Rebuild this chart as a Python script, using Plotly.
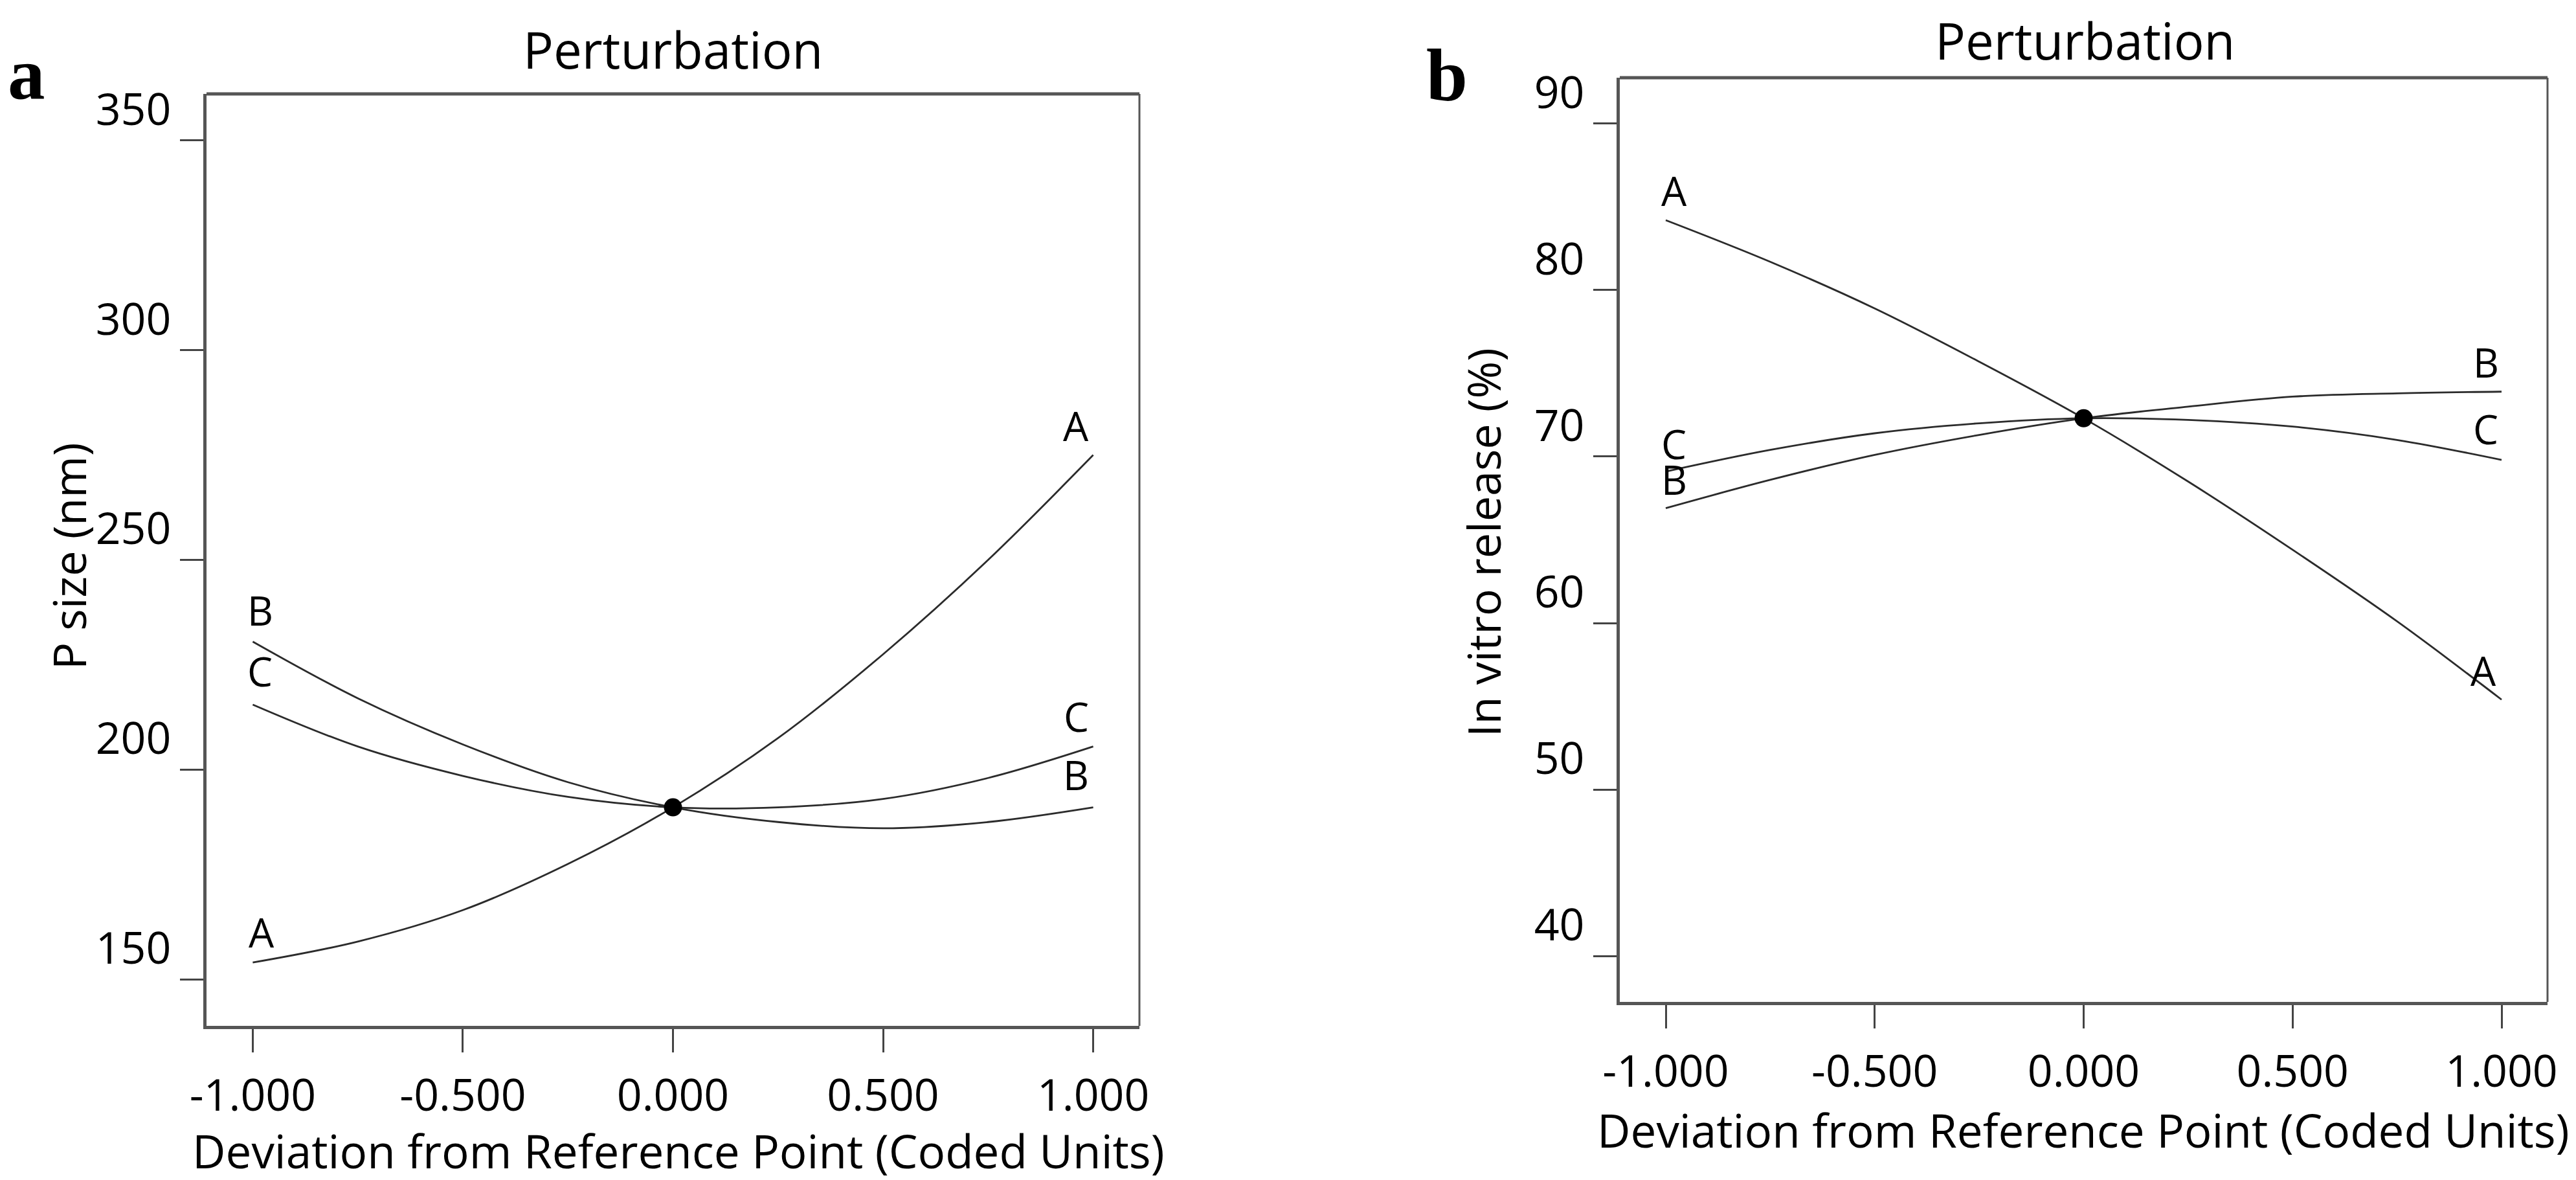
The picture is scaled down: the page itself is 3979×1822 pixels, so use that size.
import plotly.graph_objects as go

# ---------------- data ----------------
x_pts = [-1.0, -0.75, -0.5, -0.25, 0.0, 0.25, 0.5, 0.75, 1.0]

psize_A = [154.0, 159.0, 166.5, 177.5, 191.0, 207.5, 227.5, 250.0, 275.0]
psize_B = [230.5, 217.0, 206.0, 197.0, 191.0, 187.5, 186.0, 187.5, 191.0]
psize_C = [215.5, 205.5, 198.5, 193.5, 191.0, 191.0, 193.0, 198.0, 205.5]
psize_ref = 191.0

rel_A = [84.2, 81.7, 78.9, 75.7, 72.3, 68.5, 64.4, 60.1, 55.4]
rel_B = [66.9, 68.6, 70.1, 71.3, 72.3, 73.0, 73.6, 73.8, 73.9]
rel_C = [69.1, 70.4, 71.4, 72.0, 72.3, 72.2, 71.8, 71.0, 69.8]
rel_ref = 72.3

x_tickvals = [-1.0, -0.5, 0.0, 0.5, 1.0]
x_ticktext = ["-1.000", "-0.500", "0.000", "0.500", "1.000"]
ya_tickvals = [150, 200, 250, 300, 350]
yb_tickvals = [40, 50, 60, 70, 80, 90]

# ---------------- style ----------------
FONT = "Open Sans"
LINE_COLOR = "#2b2b2b"
FRAME_COLOR = "#555555"
W, H = 3979, 1822

fig = go.Figure()

def add_curve(x, y, xa, ya):
    fig.add_trace(go.Scatter(x=x, y=y, mode="lines", xaxis=xa, yaxis=ya,
                             line=dict(color=LINE_COLOR, width=2.8, shape="spline", smoothing=1.0),
                             showlegend=False, hoverinfo="skip"))

for series in (psize_A, psize_B, psize_C):
    add_curve(x_pts, series, "x", "y")
for series in (rel_A, rel_B, rel_C):
    add_curve(x_pts, series, "x2", "y2")

fig.add_trace(go.Scatter(x=[0.0], y=[psize_ref], mode="markers", xaxis="x", yaxis="y",
                         marker=dict(color="black", size=28), showlegend=False))
fig.add_trace(go.Scatter(x=[0.0], y=[rel_ref], mode="markers", xaxis="x2", yaxis="y2",
                         marker=dict(color="black", size=28), showlegend=False))

xcommon = dict(range=[-1.11, 1.11], tickvals=x_tickvals, ticktext=x_ticktext,
               ticks="outside", ticklen=36, tickwidth=3, tickcolor="#444444",
               showline=True, linewidth=5, linecolor=FRAME_COLOR,
               showgrid=False, zeroline=False, automargin=False,
               tickfont=dict(family=FONT, size=68, color="black"),
               ticklabelstandoff=8)
ycommon = dict(ticks="outside", ticklen=36, tickwidth=3, tickcolor="#444444",
               showline=True, linewidth=5, linecolor=FRAME_COLOR,
               showgrid=False, zeroline=False, automargin=False,
               tickfont=dict(family=FONT, size=68, color="black"),
               ticklabelshift=-48, ticklabelstandoff=0)

fig.update_layout(
    width=W, height=H, margin=dict(l=0, r=0, t=0, b=0, autoexpand=False),
    paper_bgcolor="white", plot_bgcolor="white",
    xaxis=dict(domain=[311 / W, 1752 / W], anchor="y", **xcommon),
    yaxis=dict(domain=[1 - 1576 / H, 1 - 137 / H], anchor="x", range=[138.9, 361.1],
               tickvals=ya_tickvals, **ycommon),
    xaxis2=dict(domain=[2494 / W, 3927 / W], anchor="y2", **xcommon),
    yaxis2=dict(domain=[1 - 1539 / H, 1 - 112 / H], anchor="x2", range=[37.24, 92.76],
                tickvals=yb_tickvals, **ycommon),
)

# frame top & right
shapes = []
for xr, yr in (("x", "y"), ("x2", "y2")):
    shapes.append(dict(type="line", xref=f"{xr} domain", yref=f"{yr} domain",
                       x0=0, x1=1, y0=1, y1=1, line=dict(color=FRAME_COLOR, width=5)))
    shapes.append(dict(type="line", xref=f"{xr} domain", yref=f"{yr} domain",
                       x0=1, x1=1, y0=0, y1=1, line=dict(color=FRAME_COLOR, width=3)))
fig.update_layout(shapes=shapes)

ann = []
# curve labels
labels_a = [("A", -0.970, 160.2), ("B", -0.973, 237.0), ("C", -0.973, 222.4),
            ("A", 0.969, 280.9), ("C", 0.969, 211.7), ("B", 0.969, 197.7)]
labels_b = [("A", -0.971, 85.7), ("C", -0.971, 70.5), ("B", -0.971, 68.35),
            ("B", 0.972, 75.4), ("C", 0.972, 71.4), ("A", 0.966, 56.9)]
for t, x, y in labels_a:
    ann.append(dict(text=t, x=x, y=y, xref="x", yref="y", showarrow=False, xshift=-6, yshift=7,
                    font=dict(family=FONT, size=62, color="black"), xanchor="center", yanchor="middle"))
for t, x, y in labels_b:
    ann.append(dict(text=t, x=x, y=y, xref="x2", yref="y2", showarrow=False, xshift=-6, yshift=7,
                    font=dict(family=FONT, size=62, color="black"), xanchor="center", yanchor="middle"))

# titles
for x, y in ((1031 / W, 1 - 68 / H), (3212 / W, 1 - 54 / H)):
    ann.append(dict(text="Perturbation", x=x, y=y, xref="paper", yref="paper", showarrow=False,
                    font=dict(family=FONT, size=78, color="black"), xanchor="center", yanchor="middle"))
# x axis titles
for x, y in ((1040 / W, 1 - 1768 / H), (3210 / W, 1 - 1736 / H)):
    ann.append(dict(text="Deviation from Reference Point (Coded Units)", x=x, y=y,
                    xref="paper", yref="paper", showarrow=False,
                    font=dict(family=FONT, size=71, color="black"), xanchor="center", yanchor="middle"))
# y axis titles
ann.append(dict(text="P size (nm)", x=98 / W, y=1 - 851 / H, xref="paper", yref="paper",
                showarrow=False, textangle=-90,
                font=dict(family=FONT, size=70, color="black"), xanchor="center", yanchor="middle"))
ann.append(dict(text="In vitro release (%)", x=2283 / W, y=1 - 830 / H, xref="paper", yref="paper",
                showarrow=False, textangle=-90,
                font=dict(family=FONT, size=70, color="black"), xanchor="center", yanchor="middle"))
# panel letters
ann.append(dict(text="<b>a</b>", x=33 / W, y=1 - 106 / H, xref="paper", yref="paper", showarrow=False,
                font=dict(family="Liberation Serif", size=115, color="black"),
                xanchor="center", yanchor="middle"))
ann.append(dict(text="<b>b</b>", x=2227 / W, y=1 - 108 / H, xref="paper", yref="paper", showarrow=False,
                font=dict(family="Liberation Serif", size=115, color="black"),
                xanchor="center", yanchor="middle"))

fig.update_layout(annotations=ann)
fig.write_html("out.html")
